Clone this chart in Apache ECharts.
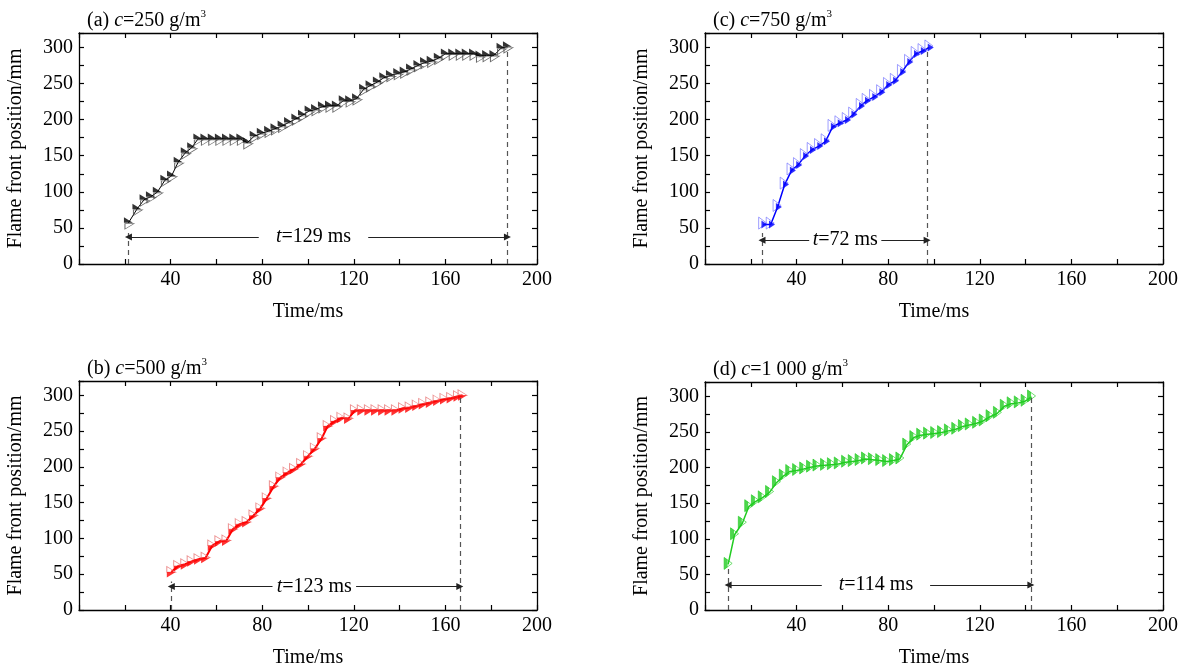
<!DOCTYPE html>
<html><head><meta charset="utf-8">
<script src="https://cdn.jsdelivr.net/npm/echarts@6/dist/echarts.min.js"></script>
<style>html,body{margin:0;padding:0;background:#fff}#c{width:1192px;height:669px}</style>
</head><body><div id="c"></div>
<script>
// ---- data (time in ms, flame front position in mm) ----
const timeA = [21.6,25.3,28.4,31.2,34.2,37.5,40.4,43.3,46.4,49.2,51.9,55,58.2,61.3,64.4,67.6,70.7,73.5,76.5,79.6,82.8,85.6,88.7,91.5,94.7,97.6,100.5,103.3,106.3,109.4,112.4,115.4,118.2,121.2,124.3,127.1,130.3,133.1,136,139.2,142,144.8,148,150.9,153.8,156.9,160,163.2,166.3,169.1,172.3,175.1,178,181.2,184.3,187.1];
const posA  = [57,76,89,93,99.5,116,122,141,154,161,173,173,173,173,173,173,173,168,177,181,184,187.5,191,196,201,206,212,214,218,219,219,226,226,229,242,247,252,258,261,264,266,270,275,279,281,285,291,291,291,291,291,288,289,289,299,301];
const timeB = [40.3,43.3,46.4,49.2,52.2,55.3,58.2,61.3,64.4,67.2,70.2,73.2,76.2,79.2,82,85.1,87.9,91.1,93.9,97,100,103,106,108.6,111.8,114.6,117.7,120.5,123.5,126.6,129.5,132.6,135.4,138.4,141.5,144.4,147.5,150.3,153.4,156.6,159.6,162.5,165.5,167.5];
const posB  = [53,61.6,64,68,71,73,90,96,97,113,120,123,132,142,156,173,185,192,197,204,215,225.5,240,257,264,268.5,267.6,279,279,279,279,279,279,279,282,283,285.6,288,290,292.6,295,296.3,298.6,300];
const timeC = [25.4,28.7,31.7,34.8,37.8,40.6,43.6,46.6,49.8,52.7,55.7,58.7,61.9,64.7,68,70.6,73.8,76.9,79.9,82.9,86,89.1,92,95,98];
const posC  = [54.6,54.6,79,110,129.6,137,149.5,158,163.4,170,190,195,199.5,207,219,226,231.5,238,248,253.7,266,280,291,295,300];
const timeD = [10.1,12.9,16.3,19.1,22,25,28.2,31.2,34.2,37,40,43.1,46.1,48.9,52.2,55.2,58.2,61.4,64.3,67.3,70.1,73.1,76.3,79.3,82.3,85.1,88.1,91.2,94.2,97.2,100.3,103.3,106.3,109.5,112.4,115.4,118.6,121.5,124.5,127.7,130.7,133.7,136.8,139.8,142.6];
const posD  = [64,105.6,121.8,145,152,157.4,165,178.7,188,194.4,195.8,198,200.5,202,203,204,205,207.4,208.3,209.7,212,211,209.7,208.3,209.7,212,231.5,242,245.4,246.8,247.7,249,251.4,253.7,257.4,259.7,262,265.3,271.3,276,286,289.4,290.7,293,299];

// panel labels and durations
const panelTag   = ['(a)', '(b)', '(c)', '(d)'];
const concText   = ['250', '500', '750', '1 000'];
const durationMs = ['129', '123', '72', '114'];
// annotation values (data units)
const spanStart    = [21.6, 40.3, 24.9, 10.1];
const spanEnd      = [187.1, 166.3, 97, 142.3];
const startDashTop = [43, 40, 43, 62];
const endDashTop   = [300, 300, 300, 300];
const arrowY       = [37.5, 33, 33, 35];
const gapLeft      = [78.5, 84.5, 45.5, 51];
const gapRight     = [126.3, 121, 77, 98.3];
// axis ticks
const xTicks = [0, 200, 20];
const yTicks = [0, 320, 25];

const FONT = 'Liberation Serif';
const times = [timeA, timeB, timeC, timeD];
const poss  = [posA, posB, posC, posD];
const colors  = ['#000000', '#ff0000', '#0000ff', '#22cc22'];
const outline = ['#444444', '#e87878', '#6a6aff', '#22cc22'];
const lineW   = [1, 2, 1.5, 1.5];
// grids: a (top-left), b (bottom-left), c (top-right), d (bottom-right)
const grids = [
  {left: 79, top: 33, width: 458, height: 231},
  {left: 79, top: 381, width: 458, height: 231},
  {left: 705, top: 33, width: 458, height: 231},
  {left: 705, top: 382, width: 458, height: 231}
];
// marker shapes per panel: filled part + outline part
const markers = [
  {fill: 'path://M0,0L10,5L0,5Z', fillSize: [9, 5.5], fillOff: [0, -2.75], out: 'path://M0,0L10,0L0,5Z', outSize: [9, 5.5], outOff: [1, 3.5]},
  {fill: 'path://M0,0L10,0L0,5Z', fillSize: [9, 5.5], fillOff: [0, 2.75], out: 'path://M0,0L10,5L0,5Z', outSize: [9, 5.5], outOff: [0, -2.75]},
  {fill: 'path://M0,0L6,3L0,6Z', fillSize: [6, 8], fillOff: [1.3, 0], out: 'path://M0,0L10,5L0,10Z', outSize: [8, 12], outOff: [-0.5, -1.5]},
  {fill: 'path://M0,0L4,2L4,8L0,10Z', fillSize: [3.5, 12], fillOff: [-2.25, -1], out: 'path://M0,0L10,5L0,10Z', outSize: [8, 12], outOff: [0, -1]}
];

const xAxis = [], yAxis = [], series = [], title = [];
grids.forEach((g, i) => {
  const axisLine = {show: true, onZero: false, lineStyle: {color: '#000', width: 1.3}};
  const tick = {show: true, inside: true, length: 5, lineStyle: {color: '#000', width: 1.2}};
  xAxis.push({type: 'value', gridIndex: i, min: xTicks[0], max: xTicks[1], interval: xTicks[2], position: 'bottom',
    axisLine, axisTick: tick, splitLine: {show: false},
    axisLabel: {margin: 6, fontFamily: FONT, fontSize: 20, color: '#000',
      formatter: v => (v > 0 && v % 40 === 0) ? String(v) : ''},
    name: 'Time/ms', nameLocation: 'middle', nameGap: 38,
    nameTextStyle: {fontFamily: FONT, fontSize: 20, color: '#000'}});
  xAxis.push({type: 'value', gridIndex: i, min: xTicks[0], max: xTicks[1], interval: xTicks[2], position: 'top',
    axisLine, axisTick: tick, axisLabel: {show: false}, splitLine: {show: false}});
  yAxis.push({type: 'value', gridIndex: i, min: yTicks[0], max: yTicks[1], interval: yTicks[2], position: 'left',
    axisLine, axisTick: tick, splitLine: {show: false},
    axisLabel: {margin: 6, fontFamily: FONT, fontSize: 20, color: '#000',
      formatter: v => (v % 50 === 0 && v <= 300) ? String(v) : ''},
    name: 'Flame front position/mm', nameLocation: 'middle', nameGap: 53,
    nameTextStyle: {fontFamily: FONT, fontSize: 20, color: '#000'}});
  yAxis.push({type: 'value', gridIndex: i, min: yTicks[0], max: yTicks[1], interval: yTicks[2], position: 'right',
    axisLine, axisTick: tick, axisLabel: {show: false}, splitLine: {show: false}});

  const pts = times[i].map((t, k) => [t, poss[i][k]]);
  const mid = (gapLeft[i] + gapRight[i]) / 2;
  const dash = {type: [5, 4], color: '#555', width: 1.2};
  const arr = {type: 'solid', color: '#222', width: 1};
  series.push({type: 'line', xAxisIndex: 2 * i, yAxisIndex: 2 * i, data: pts, showSymbol: false, symbol: 'none',
    lineStyle: {color: colors[i], width: lineW[i]}, z: 2, silent: true, animation: false,
    markLine: {silent: true, animation: false, label: {show: false}, symbol: ['none', 'none'],
      data: [
        [{coord: [spanStart[i], 0], lineStyle: dash}, {coord: [spanStart[i], startDashTop[i]]}],
        [{coord: [spanEnd[i], 0], lineStyle: dash}, {coord: [spanEnd[i], endDashTop[i]]}],
        [{coord: [gapLeft[i], arrowY[i]], lineStyle: arr, symbol: 'none'}, {coord: [spanStart[i], arrowY[i]], symbol: 'triangle', symbolSize: [7, 7], symbolRotate: 90}],
        [{coord: [gapRight[i], arrowY[i]], lineStyle: arr, symbol: 'none'}, {coord: [spanEnd[i], arrowY[i]], symbol: 'triangle', symbolSize: [7, 7], symbolRotate: -90}]
      ]},
    markPoint: {silent: true, animation: false, symbol: 'rect', symbolSize: [1, 1], itemStyle: {color: 'rgba(0,0,0,0)'},
      data: [{coord: [mid, arrowY[i]], value: durationMs[i]}],
      label: {show: true, position: 'inside', formatter: p => '{i|t}{n|=' + p.value + ' ms}',
        rich: {i: {fontFamily: FONT, fontStyle: 'italic', fontSize: 20, color: '#000'},
               n: {fontFamily: FONT, fontSize: 20, color: '#000'}}}}
  });
  const m = markers[i];
  series.push({type: 'scatter', xAxisIndex: 2 * i, yAxisIndex: 2 * i, data: pts, symbol: m.out, symbolSize: m.outSize,
    symbolOffset: m.outOff, itemStyle: {color: 'rgba(255,255,255,0)', borderColor: outline[i], borderWidth: 0.8}, z: 3, silent: true, animation: false});
  series.push({type: 'scatter', xAxisIndex: 2 * i, yAxisIndex: 2 * i, data: pts, symbol: m.fill, symbolSize: m.fillSize,
    symbolOffset: m.fillOff, itemStyle: {color: colors[i]}, z: 4, silent: true, animation: false});

  title.push({left: g.left + 3, top: g.top - 29,
    text: panelTag[i] + ' {i|c}{n|=' + concText[i] + ' g/m}{s|3}',
    textStyle: {fontFamily: FONT, fontSize: 20, fontWeight: 'normal', color: '#000',
      rich: {i: {fontFamily: FONT, fontStyle: 'italic', fontSize: 20, color: '#000'},
             n: {fontFamily: FONT, fontSize: 20, color: '#000'},
             s: {fontFamily: FONT, fontSize: 11, color: '#000', padding: [0, 0, 12, 0]}}}});
});

const chart = echarts.init(document.getElementById('c'), null, {renderer: 'canvas'});
chart.setOption({backgroundColor: '#fff', animation: false, title, grid: grids, xAxis, yAxis, series});
</script>
</body></html>
